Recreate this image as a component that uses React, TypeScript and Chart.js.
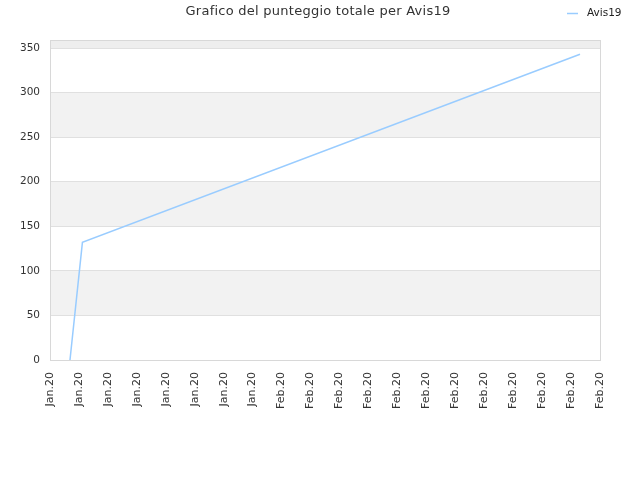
import { useEffect, useRef } from "react"
import { Chart, registerables } from "chart.js"
import type { Plugin } from "chart.js"

Chart.register(...registerables)

const chartTitle = "Grafico del punteggio totale per Avis19"
const seriesName = "Avis19"

// x positions in tick units (0 = first label), y = total score
const pointX = [0.69, 1.12, 18.31]
const pointY = [0, 132, 343]

const tickLabels = [
  "Jan.20", "Jan.20", "Jan.20", "Jan.20", "Jan.20", "Jan.20", "Jan.20", "Jan.20",
  "Feb.20", "Feb.20", "Feb.20", "Feb.20", "Feb.20", "Feb.20", "Feb.20", "Feb.20",
  "Feb.20", "Feb.20", "Feb.20", "Feb.20",
]
const yTicks = [0, 50, 100, 150, 200, 250, 300, 350]

const yMax = 359
const bandStep = 50
const lineColor = "rgb(153, 204, 255)"
const font = "'DejaVu Sans', sans-serif"

// alternating grey bands, frame, title and legend
const decorPlugin: Plugin<"line"> = {
  id: "decor",
  beforeDraw(chart) {
    const { ctx, chartArea, scales } = chart
    const y = scales.y
    ctx.save()
    for (let v = 0, i = 0; v < yMax; v += bandStep, i++) {
      if (i % 2 === 0) continue
      const top = y.getPixelForValue(Math.min(v + bandStep, yMax))
      const bottom = y.getPixelForValue(v)
      ctx.fillStyle = v + bandStep > yMax ? "#eeeeee" : "#f2f2f2"
      ctx.fillRect(chartArea.left, top, chartArea.right - chartArea.left, bottom - top)
    }
    ctx.restore()
  },
  afterDraw(chart) {
    const { ctx, chartArea } = chart
    ctx.save()
    ctx.strokeStyle = "#d8d8d8"
    ctx.lineWidth = 1
    ctx.strokeRect(chartArea.left + 0.5, chartArea.top + 0.5, chartArea.right - chartArea.left, chartArea.bottom - chartArea.top)

    // title, a bit right of the page centre like the original
    ctx.fillStyle = "#333"
    ctx.font = `13px ${font}`
    ctx.textAlign = "center"
    ctx.textBaseline = "middle"
    ;(ctx as any).letterSpacing = "0.25px"
    ctx.fillText(chartTitle, 318, 12)
    ;(ctx as any).letterSpacing = "0px"

    // legend in the top right corner
    const ds = chart.data.datasets[0]
    ctx.strokeStyle = lineColor
    ctx.lineWidth = 1.5
    ctx.beginPath()
    ctx.moveTo(567, 13.5)
    ctx.lineTo(578, 13.5)
    ctx.stroke()
    ctx.fillStyle = "#222"
    ctx.font = `10.5px ${font}`
    ctx.textAlign = "left"
    ctx.fillText(String(ds.label), 587, 13)
    ctx.restore()
  },
}

export default function App() {
  const chartRef = useRef<HTMLCanvasElement>(null)
  const chartInstance = useRef<Chart | null>(null)

  useEffect(() => {
    if (!chartRef.current) return
    if (chartInstance.current) chartInstance.current.destroy()

    const ctx = chartRef.current.getContext("2d")
    if (!ctx) return

    chartInstance.current = new Chart(ctx, {
      type: "line",
      data: {
        datasets: [
          {
            label: seriesName,
            data: pointX.map((x, i) => ({ x, y: pointY[i] })),
            borderColor: lineColor,
            borderWidth: 1.5,
            pointRadius: 0,
            tension: 0,
            fill: false,
          },
        ],
      },
      options: {
        animation: false,
        responsive: true,
        maintainAspectRatio: false,
        layout: { padding: { left: 0, right: 40, top: 40, bottom: 0 } },
        plugins: {
          legend: { display: false },
          tooltip: { enabled: false },
          title: { display: false },
        },
        scales: {
          x: {
            type: "linear",
            min: 0,
            max: tickLabels.length - 1,
            grid: { display: false, drawTicks: false },
            border: { display: false },
            ticks: {
              stepSize: 1,
              autoSkip: false,
              maxRotation: 90,
              minRotation: 90,
              padding: 12,
              color: "#333",
              font: { family: font, size: 11 },
              callback: (value) => tickLabels[Number(value)] ?? "",
            },
            afterFit: (scale) => {
              scale.height = 120
            },
          },
          y: {
            min: 0,
            max: yMax,
            grid: { color: "#e0e0e0", drawTicks: false },
            border: { display: false },
            afterBuildTicks: (scale) => {
              scale.ticks = yTicks.map((value) => ({ value }))
            },
            ticks: {
              padding: 10,
              color: "#333",
              font: { family: font, size: 10.5 },
            },
            afterFit: (scale) => {
              scale.width = 50
            },
          },
        },
      },
      plugins: [decorPlugin],
    })

    return () => {
      if (chartInstance.current) {
        chartInstance.current.destroy()
        chartInstance.current = null
      }
    }
  }, [])

  return (
    <div style={{ position: "fixed", left: 0, top: 0, width: 640, height: 480, background: "#fff" }}>
      <canvas ref={chartRef} aria-label="Grafico del punteggio totale"></canvas>
    </div>
  )
}
